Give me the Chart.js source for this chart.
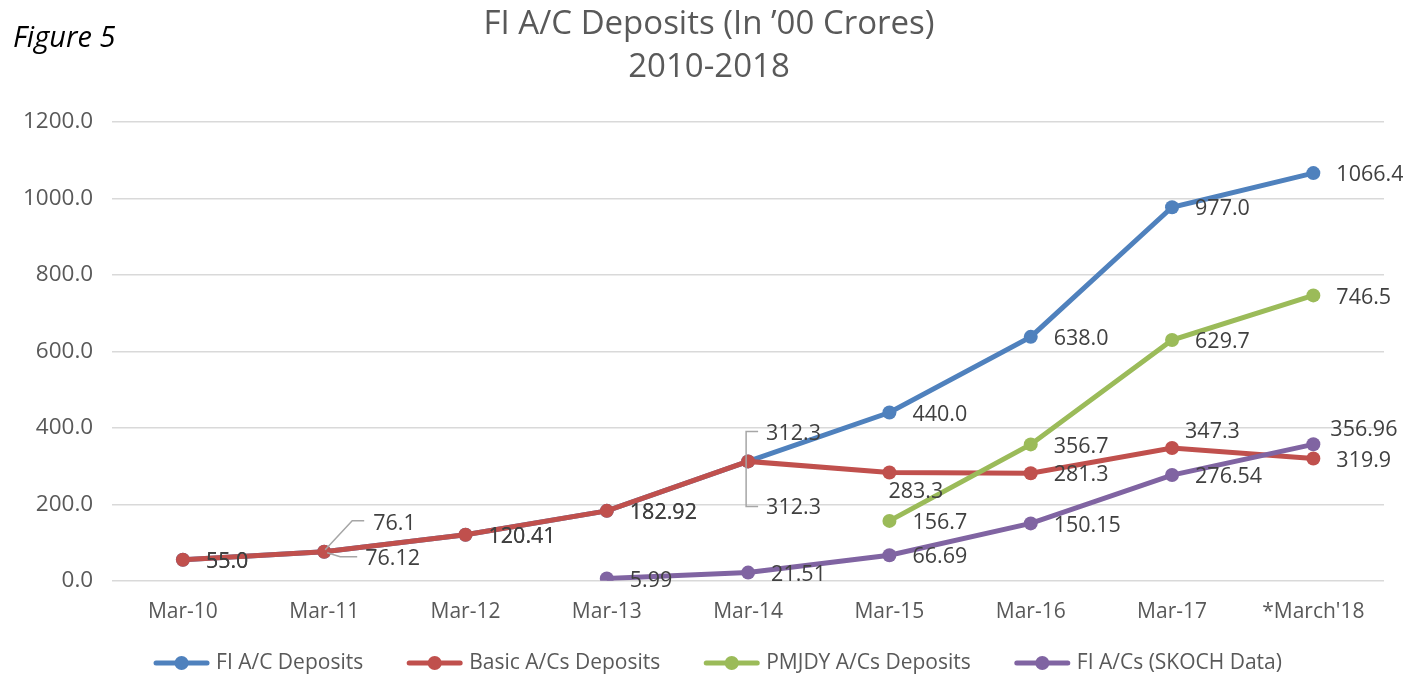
<!DOCTYPE html>
<html>
<head>
<meta charset="utf-8">
<script src="https://cdn.jsdelivr.net/npm/chart.js@4/dist/chart.umd.min.js"></script>
<style>
  html, body { margin: 0; padding: 0; background: #fff; }
  #wrap { width: 1403px; height: 675px; position: relative; }
</style>
</head>
<body>
<div id="wrap"><canvas id="myChart" width="1403" height="675"></canvas></div>
<script>
// chart data
var labels = ["Mar-10", "Mar-11", "Mar-12", "Mar-13", "Mar-14", "Mar-15", "Mar-16", "Mar-17", "*March'18"];
var fiDeposits = [55.0, 76.1, 120.41, 182.92, 312.3, 440.0, 638.0, 977.0, 1066.4];
var basicDeposits = [55.0, 76.12, 120.41, 182.92, 312.3, 283.3, 281.3, 347.3, 319.9];
var pmjdyDeposits = [null, null, null, null, null, 156.7, 356.7, 629.7, 746.5];
var skochData = [null, null, null, 5.99, 21.51, 66.69, 150.15, 276.54, 356.96];
// label text as printed on the chart
var fiText = ["55.0", "76.1", "120.41", "182.92", "312.3", "440.0", "638.0", "977.0", "1066.4"];
var basicText = ["55.0", "76.12", "120.41", "182.92", "312.3", "283.3", "281.3", "347.3", "319.9"];
var pmjdyText = [null, null, null, null, null, "156.7", "356.7", "629.7", "746.5"];
var skochText = [null, null, null, "5.99", "21.51", "66.69", "150.15", "276.54", "356.96"];
var yTicks = [0, 200, 400, 600, 800, 1000, 1200];
var titleLines = ["FI A/C Deposits (In \u201900 Crores)", "2010-2018"];

var BLUE = "#4F81BD", RED = "#C0504D", GREEN = "#9BBB59", PURPLE = "#8064A2";
var FONT = "'Open Sans', 'Noto Sans', sans-serif";

// label offsets (dx, dy) from the point, default is right of the point
var labelMoves = {
  "0-1": [49, -28], "1-1": [41, 7],
  "0-4": [18, -28], "1-4": [18, 46],
  "1-5": [-1, 19],
  "1-7": [13, -16],
  "3-8": [17, -14]
};

var pointLabels = {
  id: "pointLabels",
  afterDatasetsDraw: function (chart) {
    var ctx = chart.ctx;
    var texts = [fiText, basicText, pmjdyText, skochText];
    ctx.save();
    ctx.font = "21.5px " + FONT;
    ctx.fillStyle = "#404040";
    ctx.textBaseline = "middle";
    ctx.textAlign = "left";
    chart.data.datasets.forEach(function (ds, d) {
      var meta = chart.getDatasetMeta(d);
      meta.data.forEach(function (pt, i) {
        if (ds.data[i] === null) return;
        var mv = labelMoves[d + "-" + i] || [23, 2];
        ctx.fillText(texts[d][i], pt.x + mv[0], pt.y + mv[1]);
      });
    });
    // leader lines
    var b = chart.getDatasetMeta(0).data;
    ctx.strokeStyle = "#A6A6A6";
    ctx.lineWidth = 1.5;
    var p1 = b[1];
    ctx.beginPath();
    ctx.moveTo(p1.x + 1, p1.y - 2); ctx.lineTo(p1.x + 28, p1.y - 31); ctx.lineTo(p1.x + 40, p1.y - 31);
    ctx.stroke();
    ctx.beginPath();
    ctx.moveTo(p1.x + 3, p1.y + 1); ctx.lineTo(p1.x + 16, p1.y + 5); ctx.lineTo(p1.x + 33, p1.y + 5);
    ctx.stroke();
    var p4 = b[4];
    ctx.beginPath();
    ctx.moveTo(p4.x + 10, p4.y - 30); ctx.lineTo(p4.x - 2, p4.y - 30);
    ctx.lineTo(p4.x - 2, p4.y + 45); ctx.lineTo(p4.x + 10, p4.y + 45);
    ctx.stroke();

    // title (drawn here so it sits where the original one does)
    ctx.textAlign = "center";
    ctx.font = "33px " + FONT;
    ctx.fillStyle = "#595959";
    ctx.fillText(titleLines[0], 709, 25);
    ctx.fillText(titleLines[1], 709, 68);
    ctx.textAlign = "left";

    // figure caption
    ctx.font = "italic 29px " + FONT;
    ctx.fillStyle = "#000";
    ctx.fillText("Figure 5", 13, 39);

    // legend, drawn by hand so the spacing matches
    ctx.font = "21px " + FONT;
    var sets = chart.data.datasets;
    var total = 0;
    sets.forEach(function (ds, i) {
      total += 55 + 7 + ctx.measureText(ds.label).width + (i < sets.length - 1 ? 44 : 0);
    });
    var x = 718 - total / 2, y = 663;
    sets.forEach(function (ds) {
      ctx.strokeStyle = ds.borderColor;
      ctx.lineWidth = 5;
      ctx.lineCap = "round";
      ctx.beginPath(); ctx.moveTo(x + 2, y); ctx.lineTo(x + 53, y); ctx.stroke();
      ctx.fillStyle = ds.borderColor;
      ctx.beginPath(); ctx.arc(x + 27.5, y, 7, 0, Math.PI * 2); ctx.fill();
      ctx.fillStyle = "#595959";
      ctx.fillText(ds.label, x + 62, y);
      x += 55 + 7 + ctx.measureText(ds.label).width + 44;
    });
    ctx.restore();
  }
};

function makeSet(label, data, color, order) {
  return {
    label: label,
    data: data,
    borderColor: color,
    backgroundColor: color,
    borderWidth: 5,
    pointRadius: 7,
    pointHoverRadius: 7,
    pointBorderWidth: 0,
    tension: 0,
    spanGaps: false,
    order: order
  };
}

function renderChart() {
  const config = {
    type: "line",
    data: {
      labels: labels,
      datasets: [
        makeSet("FI A/C Deposits", fiDeposits, BLUE, 3),
        makeSet("Basic A/Cs Deposits", basicDeposits, RED, 2),
        makeSet("PMJDY A/Cs Deposits", pmjdyDeposits, GREEN, 1),
        makeSet("FI A/Cs (SKOCH Data)", skochData, PURPLE, 0)
      ]
    },
    options: {
      responsive: false,
      animation: false,
      layout: { padding: { left: 4, right: 19, top: 122, bottom: 39 } },
      plugins: {
        title: { display: false },
        legend: { display: false },
        tooltip: { enabled: false }
      },
      scales: {
        x: {
          offset: true,
          grid: { display: false },
          border: { display: false },
          ticks: { color: "#595959", font: { family: FONT, size: 21 }, padding: 11, maxRotation: 0 }
        },
        y: {
          min: 0,
          max: 1200,
          afterBuildTicks: function (axis) {
            axis.ticks = yTicks.map(function (v) { return { value: v }; });
          },
          grid: { color: "#D9D9D9", lineWidth: 1.5, drawTicks: false },
          border: { display: false },
          ticks: {
            color: "#595959",
            font: { family: FONT, size: 22.5 },
            padding: 19,
            callback: function (v) { return Number(v).toFixed(1); }
          }
        }
      }
    },
    plugins: [pointLabels]
  };
  return new Chart(document.getElementById("myChart"), config);
}
renderChart();
</script>
</body>
</html>
